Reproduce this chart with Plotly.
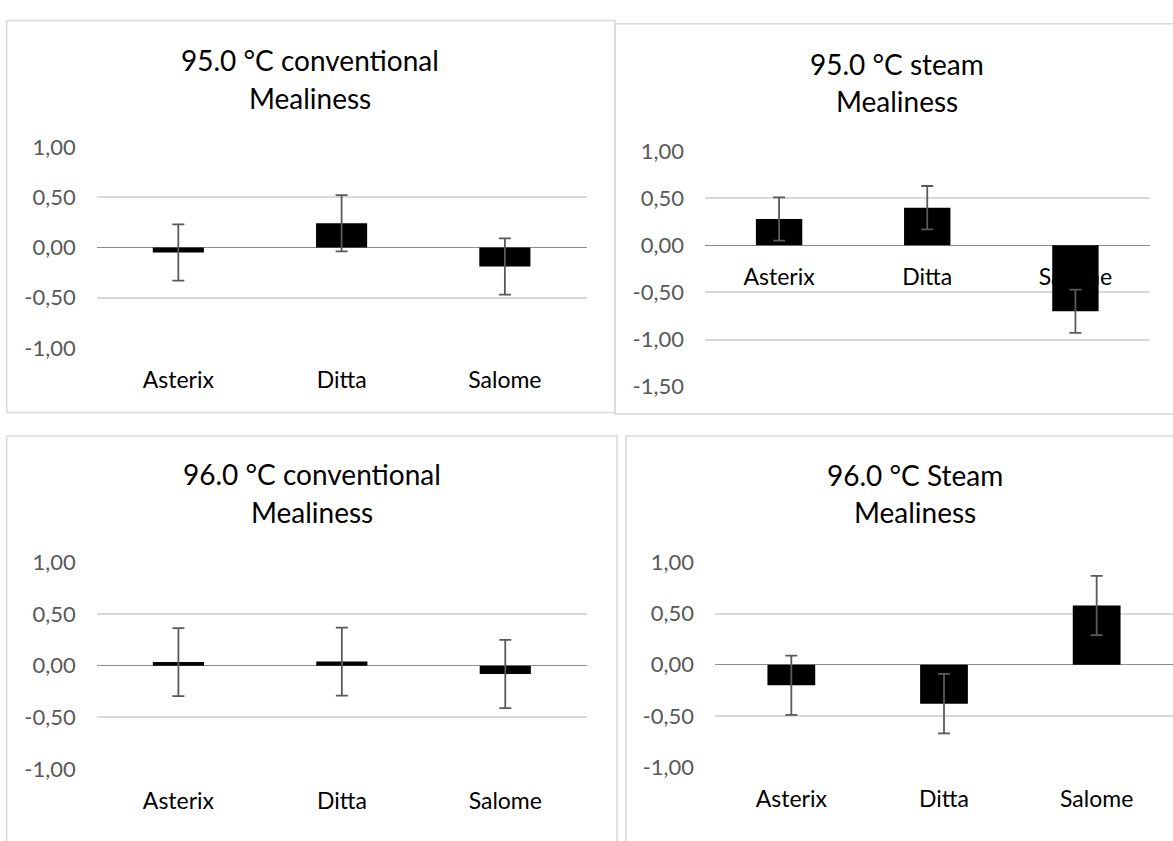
import plotly.graph_objects as go

# ---------------- data ----------------
CATEGORIES = ["Asterix", "Ditta", "Salome"]
TITLES = ["95.0 °C conventional", "95.0 °C steam", "96.0 °C conventional", "96.0 °C Steam"]
SUBTITLE = "Mealiness"

MEAN_95_CONV = [-0.05, 0.24, -0.19]
ERR_95_CONV = [0.28, 0.28, 0.28]
MEAN_95_STEAM = [0.28, 0.40, -0.70]
ERR_95_STEAM = [0.23, 0.23, 0.23]
MEAN_96_CONV = [0.035, 0.04, -0.08]
ERR_96_CONV = [0.33, 0.33, 0.33]
MEAN_96_STEAM = [-0.20, -0.38, 0.58]
ERR_96_STEAM = [0.29, 0.29, 0.29]

Y_TICKS_A = [-1.0, -0.5, 0.0, 0.5, 1.0]
Y_TICKTEXT_A = ["-1,00", "-0,50", "0,00", "0,50", "1,00"]
Y_TICKS_B = [-1.5, -1.0, -0.5, 0.0, 0.5, 1.0]
Y_TICKTEXT_B = ["-1,50", "-1,00", "-0,50", "0,00", "0,50", "1,00"]

# ---------------- layout helpers ----------------
W, H = 1173, 841


def fx(x):
    return x / W


def fy(y):
    return 1 - y / H


FONT = "Lato, 'Open Sans', sans-serif"
GRID = "#d9d9d9"
AXIS = "#8c8c8c"
TICKC = "#595959"

panels = [
    dict(mean=MEAN_95_CONV, err=ERR_95_CONV, title=TITLES[0], yr=[-1, 1],
         tv=Y_TICKS_A, tt=Y_TICKTEXT_A, xd=(96.7, 586.5), yd=(345.0, 137.3),
         tx=310, ty=(48, 87), labels_at_zero=False,
         box=(6.7, 6.7, 615, 411.7)),
    dict(mean=MEAN_95_STEAM, err=ERR_95_STEAM, title=TITLES[1], yr=[-1.5, 1],
         tv=Y_TICKS_B, tt=Y_TICKTEXT_B, xd=(705, 1149.5), yd=(385.0, 141.7),
         tx=897, ty=(51.7, 90), labels_at_zero=True,
         box=(615, 10, 1180, 413.3)),
    dict(mean=MEAN_96_CONV, err=ERR_96_CONV, title=TITLES[2], yr=[-1, 1],
         tv=Y_TICKS_A, tt=Y_TICKTEXT_A, xd=(96.7, 587), yd=(780.0, 566.7),
         tx=312, ty=(475, 515), labels_at_zero=False,
         box=(6.7, 436, 617, 900)),
    dict(mean=MEAN_96_STEAM, err=ERR_96_STEAM, title=TITLES[3], yr=[-1, 1],
         tv=Y_TICKS_A, tt=Y_TICKTEXT_A, xd=(715, 1173), yd=(778.0, 566.7),
         tx=914.5, ty=(476.7, 515), labels_at_zero=False,
         box=(626, 436, 1180, 900)),
]

fig = go.Figure()
layout = dict(
    width=W, height=H,
    margin=dict(l=0, r=0, t=0, b=0),
    paper_bgcolor="white", plot_bgcolor="white",
    showlegend=False, bargap=0.687,
    font=dict(family=FONT),
    shapes=[], annotations=[],
)

for i, p in enumerate(panels, start=1):
    xa = f"x{i}" if i > 1 else "x"
    ya = f"y{i}" if i > 1 else "y"
    fig.add_trace(go.Bar(
        x=CATEGORIES, y=p["mean"], xaxis=xa, yaxis=ya,
        marker=dict(color="black", line=dict(width=0)),
        error_y=dict(type="data", array=p["err"], color="#595959",
                     thickness=1.8, width=6),
    ))
    ydom = [fy(p["yd"][0]), fy(p["yd"][1])]
    xdom = [fx(p["xd"][0]), min(1.0, fx(p["xd"][1]))]
    xkey = "xaxis" if i == 1 else f"xaxis{i}"
    ykey = "yaxis" if i == 1 else f"yaxis{i}"
    xaxis = dict(domain=xdom, anchor=ya, range=[-0.5, 2.5], showgrid=False,
                 showline=False, zeroline=False, ticks="",
                 tickfont=dict(family=FONT, size=23, color="black"),
                 ticklabelstandoff=16, fixedrange=True)
    if p["labels_at_zero"]:
        y0, y1 = p["yr"]
        pos = ydom[0] + (0 - y0) / (y1 - y0) * (ydom[1] - ydom[0])
        xaxis.update(anchor="free", position=pos, layer="below traces")
    layout[xkey] = xaxis
    layout[ykey] = dict(domain=ydom, anchor=xa, range=p["yr"],
                        tickvals=p["tv"], ticktext=p["tt"],
                        showgrid=True, gridcolor=GRID, gridwidth=1.5,
                        zeroline=True, zerolinecolor=AXIS, zerolinewidth=1.2,
                        showline=False, ticks="",
                        tickfont=dict(family=FONT, size=22, color=TICKC),
                        ticklabelstandoff=20, fixedrange=True)
    bx0, by0, bx1, by1 = p["box"]
    layout["shapes"].append(dict(type="rect", xref="paper", yref="paper",
                                 x0=fx(bx0), x1=fx(bx1), y0=fy(by1), y1=fy(by0),
                                 line=dict(color=GRID, width=1.5), layer="below"))
    for txt, yy in zip([p["title"], SUBTITLE], p["ty"]):
        layout["annotations"].append(dict(
            text=txt, xref="paper", yref="paper", x=fx(p["tx"]), y=fy(yy),
            xanchor="center", yanchor="middle", showarrow=False,
            font=dict(family=FONT, size=28, color="black")))

fig.update_layout(**layout)
fig.write_html(
    "out.html",
    config={"displayModeBar": False},
    post_script="document.body.style.margin='0';document.body.style.overflow='hidden';",
)
